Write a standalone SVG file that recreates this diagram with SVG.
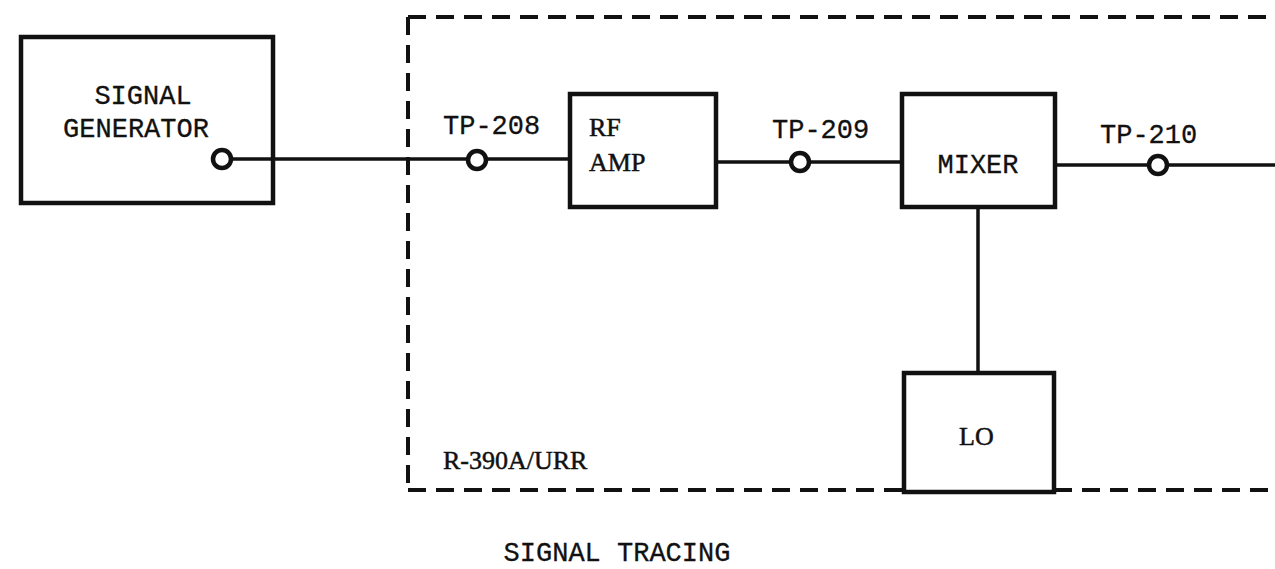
<svg xmlns="http://www.w3.org/2000/svg" width="1275" height="569" viewBox="0 0 1275 569">
<style>
.box{fill:none;stroke:#111;stroke-width:4.5}
.ln{fill:none;stroke:#111;stroke-width:3.5}
.tp{fill:#fff;stroke:#111;stroke-width:4.5}
.dash{fill:none;stroke:#111;stroke-width:4;stroke-dasharray:18 10}
.mono{font-family:"Liberation Mono",monospace;font-size:27px;fill:#111;stroke:#111;stroke-width:0.3}
.serif{font-family:"Liberation Serif",serif;font-size:26px;fill:#111;stroke:#111;stroke-width:0.5}
</style>
<rect width="1275" height="569" fill="#fff"/>
<g id="enclosure">
<path class="dash" d="M408 17 H1275"/>
<path class="dash" d="M408 17 V490"/>
<path class="dash" d="M408 490 H903"/>
<path class="dash" d="M1054 490 H1275"/>
<text class="serif" x="443" y="469">R-390A/URR</text>
</g>
<g id="connectors">
<path class="ln" d="M231 159 H570"/>
<path class="ln" d="M717 162 H902"/>
<path class="ln" d="M1055 165 H1275"/>
<path class="ln" d="M978 207 V373"/>
</g>
<g id="signal-generator">
<rect class="box" x="21" y="37" width="252" height="166"/>
<text class="mono" x="143" y="104" text-anchor="middle">SIGNAL</text>
<text class="mono" x="136" y="137" text-anchor="middle">GENERATOR</text>
<circle class="tp" cx="222" cy="159" r="9"/>
</g>
<g id="tp-208">
<circle class="tp" cx="477" cy="160" r="9"/>
<text class="mono" x="443" y="134">TP-208</text>
</g>
<g id="rf-amp">
<rect class="box" x="570" y="94" width="146" height="113"/>
<text class="serif" x="589" y="136">RF</text>
<text class="serif" x="589" y="171">AMP</text>
</g>
<g id="tp-209">
<circle class="tp" cx="800" cy="162" r="9"/>
<text class="mono" x="772" y="138">TP-209</text>
</g>
<g id="mixer">
<rect class="box" x="902" y="94" width="153" height="113"/>
<text class="mono" x="978" y="173" text-anchor="middle">MIXER</text>
</g>
<g id="tp-210">
<circle class="tp" cx="1158" cy="165" r="9"/>
<text class="mono" x="1100" y="143">TP-210</text>
</g>
<g id="lo">
<rect class="box" x="904" y="373" width="150" height="119"/>
<text class="serif" x="959" y="445">LO</text>
</g>
<g id="caption">
<text class="mono" x="617" y="561" text-anchor="middle">SIGNAL TRACING</text>
</g>
</svg>
